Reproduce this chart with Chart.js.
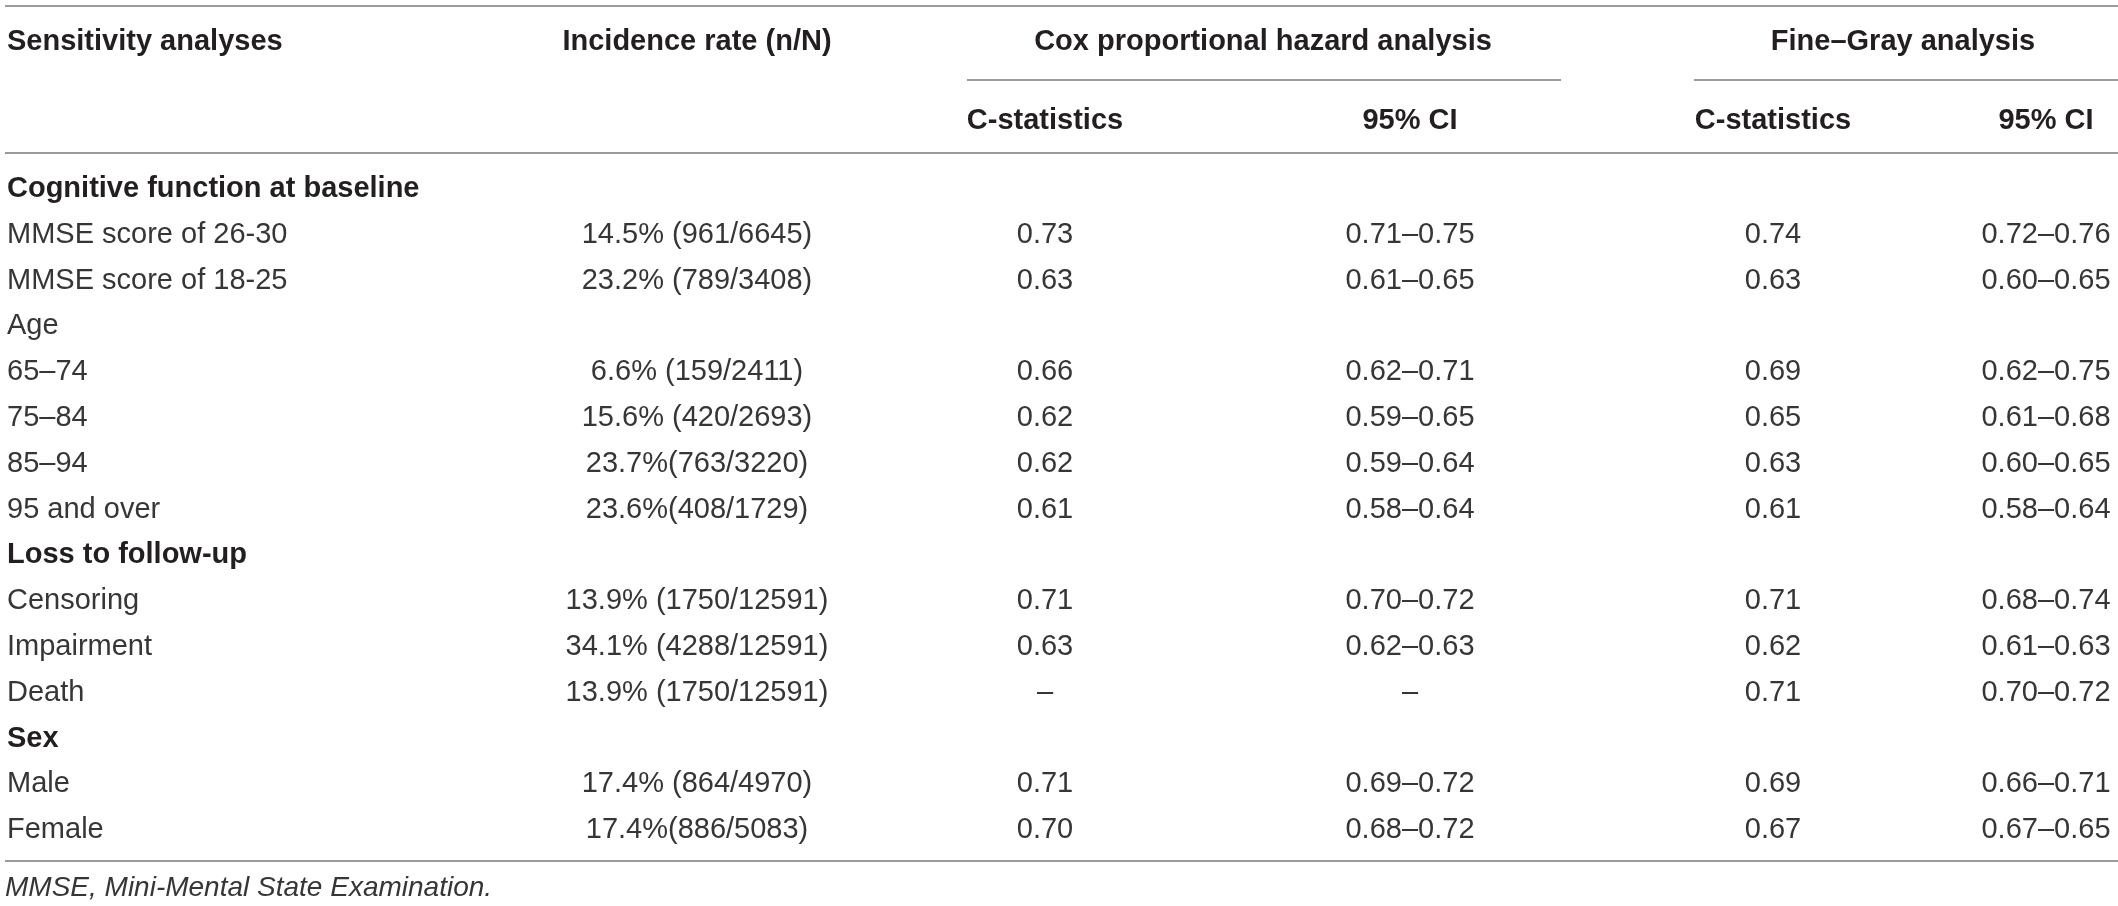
<!DOCTYPE html>
<html lang="en">
<head>
    <meta charset="UTF-8">
    <title>Sensitivity analyses</title>
    <script src="https://cdn.jsdelivr.net/npm/chart.js"></script>
    <style>
        html, body { margin: 0; padding: 0; background: #ffffff; }
        #wrap { width: 2118px; height: 906px; position: relative; }
    </style>
</head>
<body>
    <div id="wrap"><canvas id="tableChart"></canvas></div>

    <script>
        // Table data
        const rowLabels = [
            'Cognitive function at baseline', 'MMSE score of 26-30', 'MMSE score of 18-25',
            'Age', '65–74', '75–84', '85–94', '95 and over',
            'Loss to follow-up', 'Censoring', 'Impairment', 'Death',
            'Sex', 'Male', 'Female'
        ];
        const boldRows = ['Cognitive function at baseline', 'Loss to follow-up', 'Sex'];
        const incidence = [
            '', '14.5% (961/6645)', '23.2% (789/3408)',
            '', '6.6% (159/2411)', '15.6% (420/2693)', '23.7%(763/3220)', '23.6%(408/1729)',
            '', '13.9% (1750/12591)', '34.1% (4288/12591)', '13.9% (1750/12591)',
            '', '17.4% (864/4970)', '17.4%(886/5083)'
        ];
        // Cox proportional hazard analysis (null = not estimated, shown as dash)
        const coxC  = [undefined, 0.73, 0.63, undefined, 0.66, 0.62, 0.62, 0.61, undefined, 0.71, 0.63, null, undefined, 0.71, 0.70];
        const coxLo = [undefined, 0.71, 0.61, undefined, 0.62, 0.59, 0.59, 0.58, undefined, 0.70, 0.62, null, undefined, 0.69, 0.68];
        const coxHi = [undefined, 0.75, 0.65, undefined, 0.71, 0.65, 0.64, 0.64, undefined, 0.72, 0.63, null, undefined, 0.72, 0.72];
        // Fine–Gray analysis
        const fgC  = [undefined, 0.74, 0.63, undefined, 0.69, 0.65, 0.63, 0.61, undefined, 0.71, 0.62, 0.71, undefined, 0.69, 0.67];
        const fgLo = [undefined, 0.72, 0.60, undefined, 0.62, 0.61, 0.60, 0.58, undefined, 0.68, 0.61, 0.70, undefined, 0.66, 0.67];
        const fgHi = [undefined, 0.76, 0.65, undefined, 0.75, 0.68, 0.65, 0.64, undefined, 0.74, 0.63, 0.72, undefined, 0.71, 0.65];

        const groupHeaders = ['Sensitivity analyses', 'Incidence rate (n/N)', 'Cox proportional hazard analysis', 'Fine–Gray analysis'];
        const subHeaders = ['C-statistics', '95% CI', 'C-statistics', '95% CI'];
        const footnote = 'MMSE, Mini-Mental State Examination.';

        // Layout (x in page units, y in row units)
        const colX = { label: 7, inc: 697, coxC: 1045, coxCI: 1410, fgC: 1773, fgCI: 2046, cox: 1263, fg: 1903 };
        const rowY = { top: -3.952, group: -3.21, sub: -2.336, subHead: -1.485, sep: -0.742, bottom: 14.716, note: 15.262 };
        const FONT = "'Liberation Sans', Arial, sans-serif";
        const SIZE = 29;
        const HEAD = '#231f20';
        const BODY = '#383536';
        const RULE = '#9b9b9b';

        const fmtC = v => v === undefined ? '' : (v === null ? '–' : v.toFixed(2));
        const fmtCI = (lo, hi) => lo === undefined ? '' : (lo === null ? '–' : lo.toFixed(2) + '–' + hi.toFixed(2));

        function column(xKey, texts, align) {
            return {
                data: rowLabels.map((_, i) => ({ x: colX[xKey], y: i })),
                texts: texts,
                align: align,
                pointRadius: 0,
                pointHoverRadius: 0
            };
        }

        const datasets = [
            column('label', rowLabels, 'left'),
            column('inc', incidence, 'center'),
            column('coxC', coxC.map(fmtC), 'center'),
            column('coxCI', coxLo.map((lo, i) => fmtCI(lo, coxHi[i])), 'center'),
            column('fgC', fgC.map(fmtC), 'center'),
            column('fgCI', fgLo.map((lo, i) => fmtCI(lo, fgHi[i])), 'center')
        ];

        // Draws rules, headers and cell text from the chart scales
        const tablePlugin = {
            id: 'tableText',
            afterDatasetsDraw(chart) {
                const ctx = chart.ctx;
                const xs = chart.scales.x, ys = chart.scales.y;
                const base = 10; // cap centre -> baseline

                ctx.save();
                ctx.strokeStyle = RULE;
                ctx.lineWidth = 2;
                const rule = (at, from, to) => {
                    const py = Math.round(ys.getPixelForValue(at));
                    ctx.beginPath();
                    ctx.moveTo(xs.getPixelForValue(from), py);
                    ctx.lineTo(xs.getPixelForValue(to), py);
                    ctx.stroke();
                };
                rule(rowY.top, 5, 2118);
                rule(rowY.sub, 967, 1561);
                rule(rowY.sub, 1694, 2118);
                rule(rowY.sep, 5, 2118);
                rule(rowY.bottom, 5, 2118);

                ctx.fillStyle = HEAD;
                ctx.textBaseline = 'alphabetic';
                ctx.font = 'bold ' + SIZE + 'px ' + FONT;
                const gy = ys.getPixelForValue(rowY.group) + base;
                ctx.textAlign = 'left';
                ctx.fillText(groupHeaders[0], xs.getPixelForValue(colX.label), gy);
                ctx.textAlign = 'center';
                ctx.fillText(groupHeaders[1], xs.getPixelForValue(colX.inc), gy);
                ctx.fillText(groupHeaders[2], xs.getPixelForValue(colX.cox), gy);
                ctx.fillText(groupHeaders[3], xs.getPixelForValue(colX.fg), gy);
                const sy = ys.getPixelForValue(rowY.subHead) + base;
                [colX.coxC, colX.coxCI, colX.fgC, colX.fgCI].forEach((cx, i) => {
                    ctx.fillText(subHeaders[i], xs.getPixelForValue(cx), sy);
                });

                chart.data.datasets.forEach((ds, di) => {
                    const meta = chart.getDatasetMeta(di);
                    ctx.textAlign = ds.align;
                    meta.data.forEach((pt, i) => {
                        const txt = ds.texts[i];
                        if (!txt) return;
                        const bold = di === 0 && boldRows.includes(txt);
                        ctx.font = (bold ? 'bold ' : '') + SIZE + 'px ' + FONT;
                        ctx.fillStyle = bold ? HEAD : BODY;
                        ctx.fillText(txt, pt.x, pt.y + base);
                    });
                });

                ctx.font = 'italic 28px ' + FONT;
                ctx.fillStyle = BODY;
                ctx.textAlign = 'left';
                ctx.fillText(footnote, xs.getPixelForValue(5), ys.getPixelForValue(rowY.note) + base);
                ctx.restore();
            }
        };

        new Chart(document.getElementById('tableChart'), {
            type: 'scatter',
            data: { datasets: datasets },
            options: {
                responsive: true,
                maintainAspectRatio: false,
                animation: false,
                devicePixelRatio: 1,
                events: [],
                layout: { padding: 0 },
                plugins: { legend: { display: false }, tooltip: { enabled: false } },
                scales: {
                    x: { type: 'linear', display: false, min: 0, max: 2118 },
                    y: { type: 'linear', display: false, reverse: true, min: -4.083, max: 15.699 }
                }
            },
            plugins: [tablePlugin]
        });
    </script>
</body>
</html>
